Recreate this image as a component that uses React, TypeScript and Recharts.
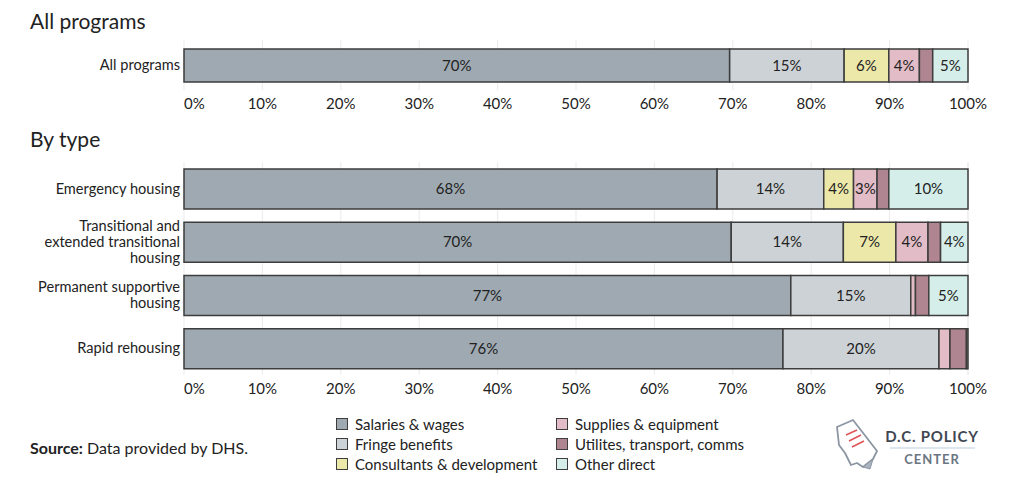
import React from 'react';
import { BarChart, Bar, XAxis, YAxis, CartesianGrid, LabelList } from 'recharts';

const allCategories = ['All programs'];
const typeCategories = [
  'Emergency housing',
  'Transitional and extended transitional housing',
  'Permanent supportive housing',
  'Rapid rehousing',
];
const typeLabelLines = [
  ['Emergency housing'],
  ['Transitional and', 'extended transitional', 'housing'],
  ['Permanent supportive', 'housing'],
  ['Rapid rehousing'],
];

// first value = All programs, then the four program types
const salaries = [69.6, 68.0, 69.8, 77.4, 76.4];
const fringe = [14.6, 13.6, 14.3, 15.3, 19.9];
const consultants = [5.7, 3.8, 6.7, 0, 0];
const supplies = [3.9, 3.0, 4.1, 0.6, 1.4];
const utilities = [1.7, 1.5, 1.6, 1.7, 2.1];
const otherDirect = [4.5, 10.1, 3.5, 5.0, 0.2];

const seriesNames = [
  'Salaries & wages',
  'Fringe benefits',
  'Consultants & development',
  'Supplies & equipment',
  'Utilites, transport, comms',
  'Other direct',
];
const seriesKeys = ['salaries', 'fringe', 'consultants', 'supplies', 'utilities', 'other'];
const seriesColors = ['#9ea9b1', '#cdd2d6', '#ece8a9', '#e2bcc6', '#ae8590', '#d5eeea'];
const pctTicks = [0, 10, 20, 30, 40, 50, 60, 70, 80, 90, 100];

const FONT = 'Lato, "Open Sans", sans-serif';
const TEXT = '#222';
const FS = 15;

function row(i: number, name: string) {
  return {
    name,
    salaries: salaries[i],
    fringe: fringe[i],
    consultants: consultants[i],
    supplies: supplies[i],
    utilities: utilities[i],
    other: otherDirect[i],
  };
}

const allData = allCategories.map((c) => row(0, c));
const typeData = typeCategories.map((c, i) => row(i + 1, c));

const PctTick = (props: any) => {
  const { x, y, payload } = props;
  const first = payload.value === 0;
  return (
    <text
      x={x}
      y={y}
      dy={11}
      textAnchor={first ? 'start' : 'middle'}
      fontSize={FS}
      fill={TEXT}
      fontFamily={FONT}
    >
      {payload.value}%
    </text>
  );
};

const CatTick = (props: any) => {
  const { x, y, payload } = props;
  const idx = typeCategories.indexOf(payload.value);
  const lines = idx >= 0 ? typeLabelLines[idx] : [payload.value];
  const lh = 16;
  const start = y - ((lines.length - 1) * lh) / 2;
  return (
    <text x={x + 4} y={start} textAnchor="end" fontSize={14.6} fill={TEXT} fontFamily={FONT}>
      {lines.map((l: string, i: number) => (
        <tspan key={i} x={x + 4} y={start + i * lh} dy={5}>
          {l}
        </tspan>
      ))}
    </text>
  );
};

const SegLabel = (props: any) => {
  const { x, y, width, height, value } = props;
  if (value < 2.5) return null;
  return (
    <text
      x={x + width / 2}
      y={y + height / 2}
      dy={5}
      textAnchor="middle"
      fontSize={FS}
      fill={TEXT}
      fontFamily={FONT}
    >
      {Math.round(value)}%
    </text>
  );
};

function StackedChart({ data, height, barSize }: { data: any[]; height: number; barSize: number }) {
  return (
    <BarChart
      width={1024}
      height={height}
      data={data}
      layout="vertical"
      margin={{ top: 0, right: 56, bottom: 0, left: 0 }}
      barSize={barSize}
    >
      <CartesianGrid horizontal={false} stroke="#ebebeb" />
      <XAxis
        type="number"
        domain={[0, 100]}
        ticks={pctTicks}
        tick={<PctTick />}
        axisLine={false}
        tickLine={false}
        height={25}
        interval={0}
      />
      <YAxis
        type="category"
        dataKey="name"
        width={184}
        axisLine={false}
        tickLine={false}
        tick={<CatTick />}
        interval={0}
      />
      {seriesKeys.map((k, i) => (
        <Bar
          key={k}
          dataKey={k}
          name={seriesNames[i]}
          stackId="a"
          fill={seriesColors[i]}
          stroke="#3d3d3d"
          strokeWidth={1.5}
          isAnimationActive={false}
        >
          <LabelList dataKey={k} content={<SegLabel />} />
        </Bar>
      ))}
    </BarChart>
  );
}

function Legend() {
  const col = (items: number[], left: number) =>
    items.map((i, r) => (
      <div
        key={i}
        style={{
          position: 'absolute',
          left,
          top: 415 + r * 20,
          display: 'flex',
          alignItems: 'center',
          fontSize: FS,
          color: TEXT,
          whiteSpace: 'nowrap',
        }}
      >
        <span
          style={{
            display: 'inline-block',
            width: 10,
            height: 10,
            background: seriesColors[i],
            border: '1.5px solid #3d3d3d',
            marginRight: 7,
          }}
        />
        {seriesNames[i]}
      </div>
    ));
  return (
    <>
      {col([0, 1, 2], 336)}
      {col([3, 4, 5], 556)}
    </>
  );
}

function Logo() {
  return (
    <svg width={190} height={60} style={{ position: 'absolute', left: 815, top: 415 }}>
      <path
        d="M22 12 L38 5 L62 36 L58 44 L48 52 L42 48 L36 50 L30 38 L24 30 Z"
        fill="#fff"
        stroke="#8c96a3"
        strokeWidth={1.8}
        strokeLinejoin="round"
      />
      <path d="M48 52 L58 44 L55 54 Z" fill="#aab3bf" stroke="#8c96a3" strokeWidth={1} />
      <line x1={31} y1={20} x2={42} y2={15} stroke="#e0555a" strokeWidth={1.6} />
      <line x1={34} y1={26} x2={46} y2={20} stroke="#e0555a" strokeWidth={1.6} />
      <line x1={37} y1={32} x2={49} y2={26} stroke="#e0555a" strokeWidth={1.6} />
      <text x={117} y={27} textAnchor="middle" fontSize={15} fontWeight={700} fill="#3f4852" fontFamily={FONT} letterSpacing={0.8}>
        D.C. POLICY
      </text>
      <line x1={75} y1={33} x2={160} y2={33} stroke="#b9cde0" strokeWidth={1.2} />
      <text x={117} y={49} textAnchor="middle" fontSize={13} fontWeight={700} fill="#6b7682" fontFamily={FONT} letterSpacing={1}>
        CENTER
      </text>
    </svg>
  );
}

export default function App() {
  return (
    <div
      style={{
        position: 'absolute',
        left: 0,
        top: 0,
        width: 1024,
        height: 501,
        background: '#fff',
        fontFamily: FONT,
        color: TEXT,
      }}
    >
      <div style={{ position: 'absolute', left: 30, top: 8, fontSize: 21 }}>All programs</div>
      <div style={{ position: 'absolute', left: 0, top: 40 }}>
        <StackedChart data={allData} height={75} barSize={33} />
      </div>
      <div style={{ position: 'absolute', left: 30, top: 126, fontSize: 21 }}>By type</div>
      <div style={{ position: 'absolute', left: 0, top: 162 }}>
        <StackedChart data={typeData} height={238} barSize={40} />
      </div>
      <Legend />
      <div style={{ position: 'absolute', left: 30, top: 438, fontSize: 16 }}>
        <b>Source:</b> Data provided by DHS.
      </div>
      <Logo />
    </div>
  );
}
